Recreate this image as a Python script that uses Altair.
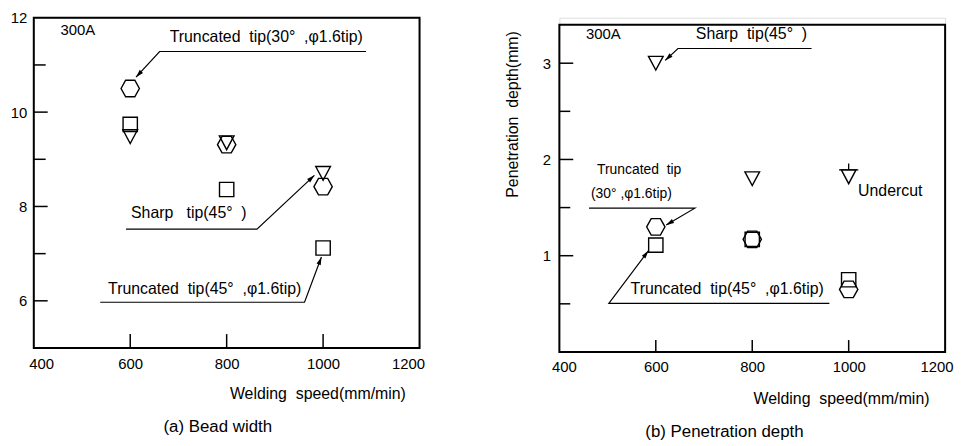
import math
import altair as alt
import pandas as pd

# ---------------- data ----------------
SPEED = [600, 800, 1000]
SERIES = ["Truncated tip(30°, φ1.6tip)", "Truncated tip(45°, φ1.6tip)", "Sharp tip(45°)"]
BEAD_T30 = [10.50, 9.31, 8.42]
BEAD_T45 = [9.74, 8.36, 7.12]
BEAD_SHARP = [9.48, 9.35, 8.70]
DEPTH_T30 = [1.30, 1.17, 0.65]
DEPTH_T45 = [1.11, 1.17, 0.75]
DEPTH_SHARP = [3.00, 1.80, 1.82]
UNDERCUT_SPEED = [1000]
UNDERCUT_DEPTH = [1.82]

X_TICKS = [400, 600, 800, 1000, 1200]
X_INNER_TICKS = [600, 800, 1000]
BEAD_TICKS = [6, 8, 10, 12]
BEAD_MAJOR_IN = [6, 8, 10]
BEAD_MINOR_IN = [7, 9, 11]
DEPTH_TICKS = [1, 2, 3]
DEPTH_MAJOR_IN = [1, 2, 3]
DEPTH_MINOR_IN = [0.5, 1.5, 2.5]
X_DOMAIN = [400, 1200]
BEAD_DOMAIN = [5, 12]
DEPTH_DOMAIN = [0, 3.4]

SP = "\u00a0"  # keeps the wide gaps of the original lettering

# annotations (text, x, y, font size)
BEAD_TEXTS = [
    ("300A", 455.5, 11.73, 15),
    (f"Truncated{SP}{SP}tip(30°{SP}{SP},φ1.6tip)", 681.8, 11.60, 16),
    (f"Sharp{SP}{SP}{SP}tip(45°{SP}{SP})", 601.6, 7.86, 16),
    (f"Truncated{SP}{SP}tip(45°{SP}{SP},φ1.6tip)", 554.0, 6.26, 16),
]
BEAD_LEADERS = [
    [(1089, 11.285), (661, 11.285), (612, 10.74)],
    [(591.3, 7.52), (862.8, 7.52), (982, 8.66)],
    [(537.8, 5.97), (961.5, 5.97), (996.5, 6.93)],
]
DEPTH_TEXTS = [
    ("300A", 455.4, 3.30, 15),
    (f"Sharp{SP}{SP}tip(45°{SP}{SP})", 683.0, 3.30, 16),
    (f"Truncated{SP}{SP}tip", 478.0, 1.886, 14),
    (f"(30°{SP},φ1.6tip)", 465.6, 1.638, 14),
    (f"Truncated{SP}{SP}tip(45°{SP}{SP},φ1.6tip)", 547.7, 0.649, 16),
    ("Undercut", 1019.4, 1.669, 16),
]
DEPTH_LEADERS = [
    [(923, 3.153), (646, 3.153), (619.5, 3.029)],
    [(461.5, 1.494), (681, 1.494), (621.5, 1.319)],
    [(960, 0.505), (502.6, 0.505), (584.6, 1.051)],
]

# ---------------- styling ----------------
FONT = "Liberation Sans"
W = 389
H_A = 333
H_B = 337
B_TOP = 7
HEX = "M-1,0L-0.5,-0.9L0.5,-0.9L1,0L0.5,0.9L-0.5,0.9Z"
SQR = "M-0.78,-0.78L0.78,-0.78L0.78,0.78L-0.78,0.78Z"
TRI = "M-0.8,-0.75L0.8,-0.75L0,0.75Z"
ARROW = "M0,0L0.45,1.6L-0.45,1.6Z"
UNDERCUT_FLAG = "M0,-0.75L0,-1.45M-1.05,-0.75L1.05,-0.75"


def points_df(a, b, c):
    rows = []
    for s, vals in zip(SERIES, [a, b, c]):
        for x, y in zip(SPEED, vals):
            rows.append({"x": x, "y": y, "series": s})
    return pd.DataFrame(rows)


def panel(vals, texts, leaders, ydomain, ytick_vals, major_in, minor_in,
          yrange, xlab_pad, ylab_pad, flush_off, xtitle_xy, ytitle,
          ytitle_xy, xtick_len, ytick_major, ytick_minor):
    sx = W / (X_DOMAIN[1] - X_DOMAIN[0])
    sy = (yrange[0] - yrange[1]) / (ydomain[1] - ydomain[0])

    xaxis = alt.Axis(values=X_TICKS, ticks=False, domain=False, grid=False, format="d",
                     labelFontSize=15, labelPadding=xlab_pad, labelFlush=True,
                     labelFlushOffset=flush_off,
                     title=f"Welding{SP}{SP}speed(mm/min)", titleFontSize=16,
                     titleFontWeight="normal",
                     titleX=xtitle_xy[0], titleY=xtitle_xy[1], titleBaseline="middle",
                     titleAlign="center")
    yaxis_kw = dict(values=ytick_vals, ticks=False, domain=False, grid=False,
                    labelFontSize=15, labelPadding=ylab_pad)
    if ytitle:
        yaxis = alt.Axis(title=ytitle, titleFontSize=16, titleFontWeight="normal",
                         titleX=ytitle_xy[0], titleY=ytitle_xy[1], titleAngle=270,
                         titleBaseline="middle", titleAlign="center", **yaxis_kw)
    else:
        yaxis = alt.Axis(title=None, **yaxis_kw)
    X = alt.X("x:Q", scale=alt.Scale(domain=X_DOMAIN), axis=xaxis)
    Y = alt.Y("y:Q", scale=alt.Scale(domain=ydomain, range=yrange), axis=yaxis)

    frame = alt.Chart(pd.DataFrame({"x": [X_DOMAIN[0]], "x2": [X_DOMAIN[1]],
                                    "y": [ydomain[0]], "y2": [ydomain[1]]})).mark_rect(
        fillOpacity=0, stroke="black", strokeWidth=2).encode(x=X, x2="x2:Q", y=Y, y2="y2:Q")

    yt_major = alt.Chart(pd.DataFrame({"y": major_in})).mark_rule(
        color="black", strokeWidth=1.5).encode(y=Y, x=alt.value(0), x2=alt.value(ytick_major))
    yt_minor = alt.Chart(pd.DataFrame({"y": minor_in})).mark_rule(
        color="black", strokeWidth=1.5).encode(y=Y, x=alt.value(0), x2=alt.value(ytick_minor))
    xt = alt.Chart(pd.DataFrame({"x": X_INNER_TICKS})).mark_rule(
        color="black", strokeWidth=1.5).encode(x=X, y=alt.value(yrange[0]),
                                               y2=alt.value(yrange[0] - xtick_len))

    pts = alt.Chart(vals).mark_point(filled=False, color="black", strokeWidth=1.4,
                                     size=342, opacity=1).encode(
        x=X, y=Y,
        shape=alt.Shape("series:N", scale=alt.Scale(domain=SERIES, range=[HEX, SQR, TRI]),
                        legend=None))

    tdf = pd.DataFrame([{"t": t, "x": x, "y": y, "fs": fs} for t, x, y, fs in texts])
    txt = alt.Chart(tdf).mark_text(align="left", baseline="middle", font=FONT,
                                   color="black").encode(
        x=X, y=Y, text="t:N", size=alt.Size("fs:Q", scale=None))

    lrows, arows = [], []
    for i, pl in enumerate(leaders):
        for j, (x, y) in enumerate(pl):
            lrows.append({"id": i, "seq": j, "x": x, "y": y})
        (x0, y0), (x1, y1) = pl[-2], pl[-1]
        dx = (x1 - x0) * sx
        dy = -(y1 - y0) * sy
        ang = math.degrees(math.atan2(dx, -dy)) % 360
        arows.append({"x": x1, "y": y1, "ang": ang})
    lines = alt.Chart(pd.DataFrame(lrows)).mark_line(color="black", strokeWidth=1.2).encode(
        x=X, y=Y, detail="id:N", order="seq:Q")
    heads = alt.Chart(pd.DataFrame(arows)).mark_point(
        shape=ARROW, filled=True, size=100, color="black", opacity=1).encode(
        x=X, y=Y, angle=alt.Angle("ang:Q", scale=None))

    return [frame, yt_major, yt_minor, xt, lines, heads, pts, txt], X, Y


bead_layers, Xa, Ya = panel(points_df(BEAD_T30, BEAD_T45, BEAD_SHARP), BEAD_TEXTS,
                            BEAD_LEADERS, BEAD_DOMAIN, BEAD_TICKS, BEAD_MAJOR_IN,
                            BEAD_MINOR_IN, [H_A, 0], 9, 7, 5, (286, 46), None,
                            None, 14, 14, 12)
left = alt.layer(*bead_layers).properties(
    width=W, height=H_A,
    title=alt.TitleParams("(a) Bead width", orient="bottom", anchor="middle", dx=-9,
                          offset=18, fontSize=17, fontWeight="normal", font=FONT,
                          color="black"))

depth_layers, Xb, Yb = panel(points_df(DEPTH_T30, DEPTH_T45, DEPTH_SHARP), DEPTH_TEXTS,
                             DEPTH_LEADERS, DEPTH_DOMAIN, DEPTH_TICKS, DEPTH_MAJOR_IN,
                             DEPTH_MINOR_IN, [H_B, B_TOP], 8, 9, 8, (284, 47),
                             f"Penetration{SP}{SP}depth(mm)", (-47, 97), 12, 14, 11)
flag = alt.Chart(pd.DataFrame({"x": UNDERCUT_SPEED, "y": UNDERCUT_DEPTH})).mark_point(
    shape=UNDERCUT_FLAG, filled=False, size=342, color="black", strokeWidth=1.3,
    opacity=1).encode(x=Xb, y=Yb)
right = alt.layer(*depth_layers, flag).properties(
    width=W, height=H_B,
    title=alt.TitleParams("(b) Penetration depth", orient="bottom", anchor="middle", dx=-28,
                          offset=18, fontSize=17, fontWeight="normal", font=FONT,
                          color="black"))

chart = alt.hconcat(left, right, spacing=141, bounds="flush",
                    padding={"left": 1, "top": 0, "right": 5, "bottom": 5}).configure_view(
    stroke="transparent").configure_axis(
    labelFont=FONT, titleFont=FONT, labelColor="black", titleColor="black",
    titleFontWeight="normal").configure(background="white")

chart.save("out.html", embed_options={"renderer": "svg", "actions": False})
